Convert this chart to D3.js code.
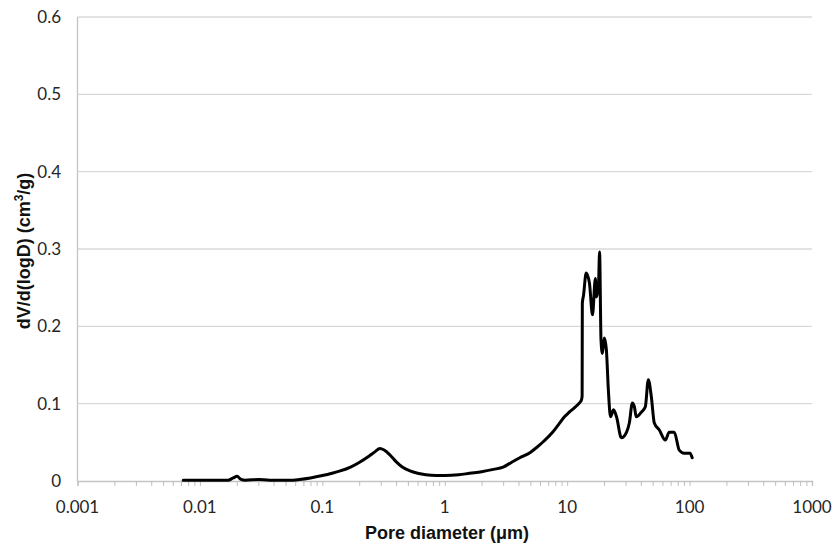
<!DOCTYPE html>
<html>
<head>
<meta charset="utf-8">
<script src="https://cdn.jsdelivr.net/npm/d3@7/dist/d3.min.js"></script>
<style>
  html, body { margin: 0; padding: 0; background: #fff; }
  svg { display: block; }
  text { font-family: Lato, "Open Sans", "Liberation Sans", sans-serif; }
  .title { font-family: "Liberation Sans", Arial, sans-serif; }
</style>
</head>
<body>
<svg id="chart" width="836" height="544"></svg>
<script>
// Pore diameter (µm)
const diameters = [0.0073, 0.01, 0.017, 0.0187, 0.0201, 0.0217, 0.0235, 0.03, 0.037, 0.0545, 0.065, 0.08,
  0.1, 0.12, 0.14, 0.17, 0.2, 0.24, 0.27, 0.295, 0.32, 0.36, 0.4, 0.45, 0.52, 0.6, 0.7, 0.85, 1.0,
  1.3, 1.6, 2.0, 2.5, 3.0, 3.5, 4.1, 5.0, 5.6, 6.5, 7.6, 8.5, 9.5, 10.4, 11.5, 12.6, 13.1, 13.25,
  13.3, 13.6, 14.3, 15.2, 16.1, 17.0, 17.3, 18.0, 18.4, 18.9,
  19.4, 20.1, 20.9, 21.7, 22.6, 23.9, 25.3, 27.7, 30.5, 32.2, 34.1, 35.4, 36.7, 40.3, 43.5, 46.0,
  48.7, 51.5, 56.6, 63.3, 68.2, 75.0, 82.3, 90.4, 101, 105];
// dV/d(logD) (cm3/g)
const dvdlogd = [0.001, 0.001, 0.001, 0.004, 0.006, 0.002, 0.001, 0.002, 0.001, 0.001, 0.002, 0.004,
  0.007, 0.010, 0.013, 0.018, 0.024, 0.032, 0.038, 0.042, 0.040, 0.033, 0.025, 0.018, 0.013, 0.010, 0.008, 0.007, 0.007,
  0.008, 0.010, 0.012, 0.015, 0.018, 0.024, 0.030, 0.037, 0.043, 0.052, 0.063, 0.073, 0.083, 0.089, 0.095, 0.101, 0.105, 0.110,
  0.230, 0.240, 0.269, 0.256, 0.215, 0.262, 0.238, 0.250, 0.296, 0.182,
  0.165, 0.185, 0.170, 0.118, 0.083, 0.092, 0.083, 0.056, 0.063, 0.075, 0.101, 0.096, 0.083, 0.089, 0.096, 0.131,
  0.109, 0.075, 0.066, 0.053, 0.063, 0.063, 0.040, 0.036, 0.036, 0.030];
const xTickValues = [0.001, 0.01, 0.1, 1, 10, 100, 1000];
const xTickLabels = ["0.001", "0.01", "0.1", "1", "10", "100", "1000"];
const yTickValues = [0, 0.1, 0.2, 0.3, 0.4, 0.5, 0.6];
const yTickLabels = ["0", "0.1", "0.2", "0.3", "0.4", "0.5", "0.6"];

const svg = d3.select("#chart");
const plotL = 77.5, plotR = 812, plotT = 17, plotB = 481;

const x = d3.scaleLog().domain([0.001, 1000]).range([plotL, plotR]);
const y = d3.scaleLinear().domain([0, 0.6]).range([plotB, plotT]);

// horizontal gridlines
svg.append("g").selectAll("line").data(yTickValues.filter(v => v > 0)).join("line")
  .attr("x1", plotL).attr("x2", plotR)
  .attr("y1", d => y(d)).attr("y2", d => y(d))
  .attr("stroke", "#d9d9d9").attr("stroke-width", 1.3);

// left axis line
svg.append("line").attr("x1", plotL).attr("x2", plotL).attr("y1", plotT).attr("y2", plotB)
  .attr("stroke", "#c4c4c4").attr("stroke-width", 1.3);

// y tick labels
svg.append("g").selectAll("text").data(yTickValues).join("text")
  .attr("x", 61).attr("y", d => y(d)).attr("dy", "0.35em")
  .attr("text-anchor", "end").attr("font-size", 17).attr("fill", "#262626")
  .text((d, i) => yTickLabels[i]);

// x axis with minor ticks
const minorTicks = [];
for (let e = -3; e < 3; e++) for (let m = 1; m <= 9; m++) minorTicks.push(m * Math.pow(10, e));
minorTicks.push(1000);
const xAxis = d3.axisBottom(x).tickValues(minorTicks).tickSize(5).tickFormat("");
const gx = svg.append("g").attr("transform", `translate(0,${plotB})`).call(xAxis);
gx.select(".domain").attr("stroke", "#c4c4c4").attr("stroke-width", 1.3);
gx.selectAll(".tick line").attr("stroke", "#bfbfbf").attr("stroke-width", 1);

svg.append("g").selectAll("text").data(xTickValues).join("text")
  .attr("x", d => x(d)).attr("y", 507).attr("dy", "0.35em")
  .attr("text-anchor", "middle").attr("font-size", 17).attr("fill", "#262626")
  .text((d, i) => xTickLabels[i]);

// line
const data = diameters.map((d, i) => [d, dvdlogd[i]]);
svg.append("path").datum(data)
  .attr("fill", "none").attr("stroke", "#000").attr("stroke-width", 3)
  .attr("stroke-linejoin", "round").attr("stroke-linecap", "round")
  .attr("d", d3.line().curve(d3.curveMonotoneX).x(d => x(d[0])).y(d => y(d[1])));

// axis titles
svg.append("text").attr("class", "title").attr("x", 447).attr("y", 539)
  .attr("text-anchor", "middle").attr("font-size", 18).attr("font-weight", "bold").attr("fill", "#111")
  .text("Pore diameter (μm)");

const yt = svg.append("text").attr("class", "title")
  .attr("transform", "translate(30,251) rotate(-90)")
  .attr("text-anchor", "middle").attr("font-size", 18).attr("font-weight", "bold").attr("fill", "#111");
yt.append("tspan").text("dV/d(logD) (cm");
yt.append("tspan").attr("baseline-shift", "super").attr("font-size", 12).text("3");
yt.append("tspan").text("/g)");
</script>
</body>
</html>
